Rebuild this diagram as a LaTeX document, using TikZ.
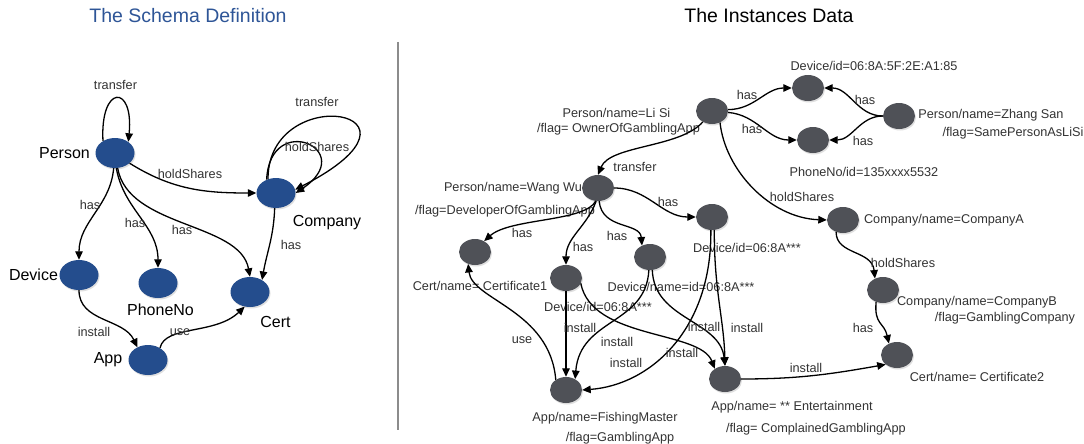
\documentclass[tikz,border=0pt]{standalone}
\usepackage{fontspec}
\setmainfont{Liberation Sans}
\usetikzlibrary{shapes.geometric,arrows.meta,shadows}

\definecolor{schemablue}{HTML}{244D8D}
\definecolor{titleblue}{HTML}{2E5597}
\definecolor{instgray}{HTML}{4F5157}
\definecolor{labelgray}{HTML}{333333}
\definecolor{rulegray}{HTML}{8C8C8C}

\tikzset{
  soft/.style={drop shadow={shadow xshift=1pt,shadow yshift=-1.5pt,opacity=0.25}},
  bnode/.style={ellipse, fill=schemablue, minimum width=39pt, minimum height=30pt, inner sep=0pt, soft},
  gnode/.style={ellipse, fill=instgray, minimum width=32pt, minimum height=26pt, inner sep=0pt, soft},
  heading/.style={font=\fontsize{19.5}{22}\selectfont, inner sep=0pt},
  big/.style={font=\fontsize{16}{18}\selectfont, text=black, inner sep=0pt},
  lbl/.style={font=\fontsize{12.7}{15}\selectfont, text=labelgray, inner sep=0pt},
  link/.style={draw=black, line width=1.3pt, -{Triangle[length=8.5pt,width=7.5pt]}},
}

\begin{document}
\begin{tikzpicture}[x=1pt,y=1pt]
\useasboundingbox[fill=white] (0,0) rectangle (1084,-444);

% ---------- headings and divider ----------
\node[heading, text=titleblue] (schematitle) at (188,-16) {The Schema Definition};
\node[heading, text=black] (instancetitle) at (769,-16) {The Instances Data};
\coordinate (ruletop) at (398,-42);
\coordinate (rulebot) at (398,-430);
\draw[rulegray, line width=1.8pt] (ruletop) -- (rulebot);

% ---------- schema: entity types ----------
\node[bnode] (person)  at (115,-153) {};
\node[bnode] (company) at (276,-193) {};
\node[bnode] (device)  at (79,-275) {};
\node[bnode] (phone)   at (158,-283) {};
\node[bnode] (cert)    at (250,-292) {};
\node[bnode] (app)     at (148,-360) {};

\node[big] (personname)  at (64.5,-153) {Person};
\node[big] (companyname) at (327,-223) {Company};
\node[big] (devicename)  at (33.5,-275) {Device};
\node[big] (phonename)   at (160.5,-310) {PhoneNo};
\node[big] (certname)    at (275.5,-322) {Cert};
\node[big] (appname)     at (108,-360) {App};

% ---------- schema: relations ----------
\draw[link] (person.135) .. controls (100,-84) and (134,-84) .. (person.40);
\draw[link] (person.-35) to[out=-32,in=180] (company.west);
\draw[link] (person.-95) to[out=-95,in=90] (device.north);
\draw[link] (person.-85) to[out=-80,in=90] (phone.north);
\draw[link] (person.-80) .. controls (128,-228) and (240,-222) .. (cert.north);
\draw[link] (company.-95) to[out=-92,in=80] (cert.45);
\draw[link] (company.125) .. controls (270,-110) and (360,-150) .. (company.east);
\draw[link] (company.120) .. controls (268,-80) and (450,-110) .. (company.10);
\draw[link] (device.south) to[out=-90,in=115] (app.130);
\draw[link] (app.45) .. controls (165,-325) and (215,-335) .. (cert.-110);

\node[lbl] (sTransfer)  at (115.5,-85) {transfer};
\node[lbl] (sHold)      at (190,-174) {holdShares};
\node[lbl] (sHasDev)    at (90,-205) {has};
\node[lbl] (sHasPhone)  at (135,-223) {has};
\node[lbl] (sHasCert)   at (182,-230) {has};
\node[lbl] (sCoHas)     at (291,-245) {has};
\node[lbl] (sCoHold)    at (317,-147) {holdShares};
\node[lbl] (sCoTrans)   at (317,-102) {transfer};
\node[lbl] (sInstall)   at (94,-332) {install};
\node[lbl] (sUse)       at (180,-332) {use};

% ---------- instances: entities ----------
\node[gnode] (lisi)     at (712,-111) {};
\node[gnode] (devtop)   at (808,-88) {};
\node[gnode] (phonetop) at (813,-140) {};
\node[gnode] (zhang)    at (899,-116) {};
\node[gnode] (wangwu)   at (598,-188) {};
\node[gnode] (compA)    at (843,-220) {};
\node[gnode] (compB)    at (883,-290) {};
\node[gnode] (cert2)    at (897,-355) {};
\node[gnode] (dev3)     at (712,-217) {};
\node[gnode] (cert1)    at (475,-252) {};
\node[gnode] (dev1)     at (566,-278) {};
\node[gnode] (dev2)     at (650,-257) {};
\node[gnode] (app1)     at (566,-390) {};
\node[gnode] (app2)     at (725,-379) {};

\node[lbl] (devtopname)   at (874,-66) {Device/id=06:8A:5F:2E:A1:85};
\node[lbl] (lisiname)     at (616.5,-113) {Person/name=Li Si};
\node[lbl] (lisiflag)     at (618.5,-129) {/flag= OwnerOfGamblingApp};
\node[lbl] (zhangname)    at (991,-115) {Person/name=Zhang San};
\node[lbl] (zhangflag)    at (1013,-133) {/flag=SamePersonAsLiSi};
\node[lbl] (phonetopname) at (864,-172) {PhoneNo/id=135xxxx5532};
\node[lbl] (compAname)    at (944,-220) {Company/name=CompanyA};
\node[lbl] (wangwuname)   at (513,-188) {Person/name=Wang Wu};
\node[lbl] (wangwuflag)   at (505,-211) {/flag=DeveloperOfGamblingApp};
\node[lbl] (dev3name)     at (747,-248) {Device/id=06:8A***};
\node[lbl] (cert1name)    at (480,-286) {Cert/name= Certificate1};
\node[lbl] (dev2name)     at (681,-287) {Device/name=id=06:8A***};
\node[lbl] (dev1name)     at (598,-307) {Device/id=06:8A***};
\node[lbl] (compBname)    at (977,-302) {Company/name=CompanyB};
\node[lbl] (compBflag)    at (1005,-318) {/flag=GamblingCompany};
\node[lbl] (cert2name)    at (977,-377) {Cert/name= Certificate2};
\node[lbl] (app1name)     at (605,-418) {App/name=FishingMaster};
\node[lbl] (app1flag)     at (620,-438) {/flag=GamblingApp};
\node[lbl] (app2name)     at (792,-407) {App/name= ** Entertainment};
\node[lbl] (app2flag)     at (816,-429) {/flag= ComplainedGamblingApp};

% ---------- instances: relations ----------
\draw[link] (lisi.5) to[out=0,in=180] (devtop.west);
\draw[link] (lisi.-5) to[out=-5,in=180] (phonetop.west);
\draw[link] (zhang.west) to[out=180,in=0] (devtop.east);
\draw[link] (zhang.west) to[out=180,in=0] (phonetop.east);
\draw[link] (lisi.-55) .. controls (725,-170) and (770,-218) .. (compA.west);
\draw[link] (lisi.-130) .. controls (680,-148) and (610,-145) .. (wangwu.north);
\draw[link] (wangwu.east) to[out=0,in=180] (dev3.west);
\draw[link] (wangwu.-100) .. controls (585,-222) and (510,-218) .. (cert1.50);
\draw[link] (wangwu.-98) to[out=-110,in=90] (dev1.north);
\draw[link] (wangwu.-85) .. controls (602,-230) and (640,-222) .. (dev2.125);
\draw[link] (app1.135) .. controls (550,-310) and (472,-300) .. (cert1.-120);
\draw[link] (dev1.south) -- (app1.north);
\draw[link] (dev2.-95) .. controls (646,-325) and (580,-318) .. (app1.50);
\draw[link] (dev3.-95) .. controls (712,-330) and (650,-385) .. (app1.east);
\draw[link] (dev1.-20) .. controls (592,-340) and (700,-330) .. (app2.135);
\draw[link] (dev2.-80) .. controls (654,-320) and (720,-320) .. (app2.north);
\draw[link] (dev3.-80) .. controls (714,-290) and (724,-320) .. (app2.north);
\draw[link] (app2.east) to[out=0,in=190] (cert2.220);
\draw[link] (compA.-120) .. controls (836,-255) and (872,-250) .. (compB.125);
\draw[link] (compB.-120) .. controls (874,-325) and (884,-322) .. (cert2.125);

\node[lbl] (iHasDevTop)   at (747,-95) {has};
\node[lbl] (iHasPhoneTop) at (752,-129) {has};
\node[lbl] (iZhDev)       at (865,-100) {has};
\node[lbl] (iZhPhone)     at (863,-141) {has};
\node[lbl] (iHoldA)       at (802,-197) {holdShares};
\node[lbl] (iTransfer)    at (635,-167) {transfer};
\node[lbl] (iHasDev3)     at (668,-202) {has};
\node[lbl] (iHasCert1)    at (522,-233) {has};
\node[lbl] (iHasDev1)     at (583,-247) {has};
\node[lbl] (iHasDev2)     at (617,-236) {has};
\node[lbl] (iUse)         at (522,-340) {use};
\node[lbl] (iInstA)       at (580,-328) {install};
\node[lbl] (iInstB)       at (617,-342) {install};
\node[lbl] (iInstC)       at (626,-363) {install};
\node[lbl] (iInstD)       at (682,-353) {install};
\node[lbl] (iInstE)       at (704,-327) {install};
\node[lbl] (iInstF)       at (747,-328) {install};
\node[lbl] (iInstG)       at (806,-368) {install};
\node[lbl] (iHoldB)       at (903,-263) {holdShares};
\node[lbl] (iHasCert2)    at (863,-328) {has};

\end{tikzpicture}
\end{document}
